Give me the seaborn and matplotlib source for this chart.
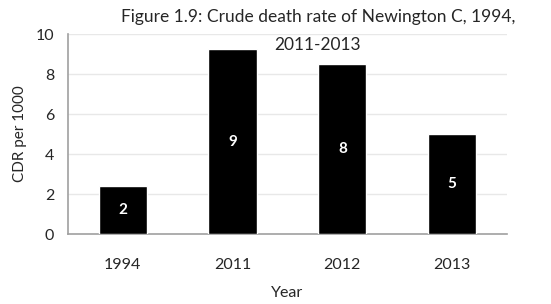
import matplotlib
matplotlib.use("Agg")
import matplotlib.pyplot as plt
import seaborn as sns
import pandas as pd
from matplotlib.ticker import FixedLocator

# data
years = ["1994", "2011", "2012", "2013"]
cdr = [2.4, 9.25, 8.5, 5.0]
bar_labels = ["2", "9", "8", "5"]

df = pd.DataFrame({"Year": years, "CDR": cdr})

sns.set_style("white")
plt.rcParams["font.family"] = ["Lato", "DejaVu Sans"]

fig = plt.figure(figsize=(5.51, 3.04), dpi=100)
ax = fig.add_axes([0.1234, 0.230, 0.7966, 0.658])

sns.barplot(data=df, x="Year", y="CDR", color="black", width=0.44,
            saturation=1, ax=ax, zorder=3)

for patch, lab in zip(ax.patches, bar_labels):
    ax.text(patch.get_x() + patch.get_width() / 2, patch.get_height() / 2, lab,
            ha="center", va="center", color="white", fontsize=11, fontweight="bold")

ax.set_xlim(-0.5, 3.5)
ax.set_ylim(0, 10)
ax.set_yticks([0, 2, 4, 6, 8, 10])
ax.yaxis.grid(True, color="#e8e8e8", linewidth=1, zorder=0)
ax.set_axisbelow(True)

for s in ["top", "right"]:
    ax.spines[s].set_visible(False)
for s in ["left", "bottom"]:
    ax.spines[s].set_color("#a0a0a0")
    ax.spines[s].set_linewidth(1.2)

ax.tick_params(axis="x", which="major", length=0, labelsize=11.5, pad=17)
ax.xaxis.set_minor_locator(FixedLocator([-0.5, 0.5, 1.5, 2.5, 3.5]))
ax.tick_params(axis="x", which="minor", length=4, color="#a0a0a0", width=1.2)
ax.tick_params(axis="y", length=4, color="#a0a0a0", width=1.2, labelsize=11.5, pad=6)

ax.set_xlabel("Year", fontsize=11.5, labelpad=10)
ax.set_ylabel("CDR per 1000", fontsize=11, labelpad=6)

fig.text(0.577, 0.945, "Figure 1.9: Crude death rate of Newington C, 1994,",
         ha="center", va="center", fontsize=12.5)
fig.text(0.577, 0.852, "2011-2013", ha="center", va="center", fontsize=12.5)

fig.savefig("out.png", dpi=100)
